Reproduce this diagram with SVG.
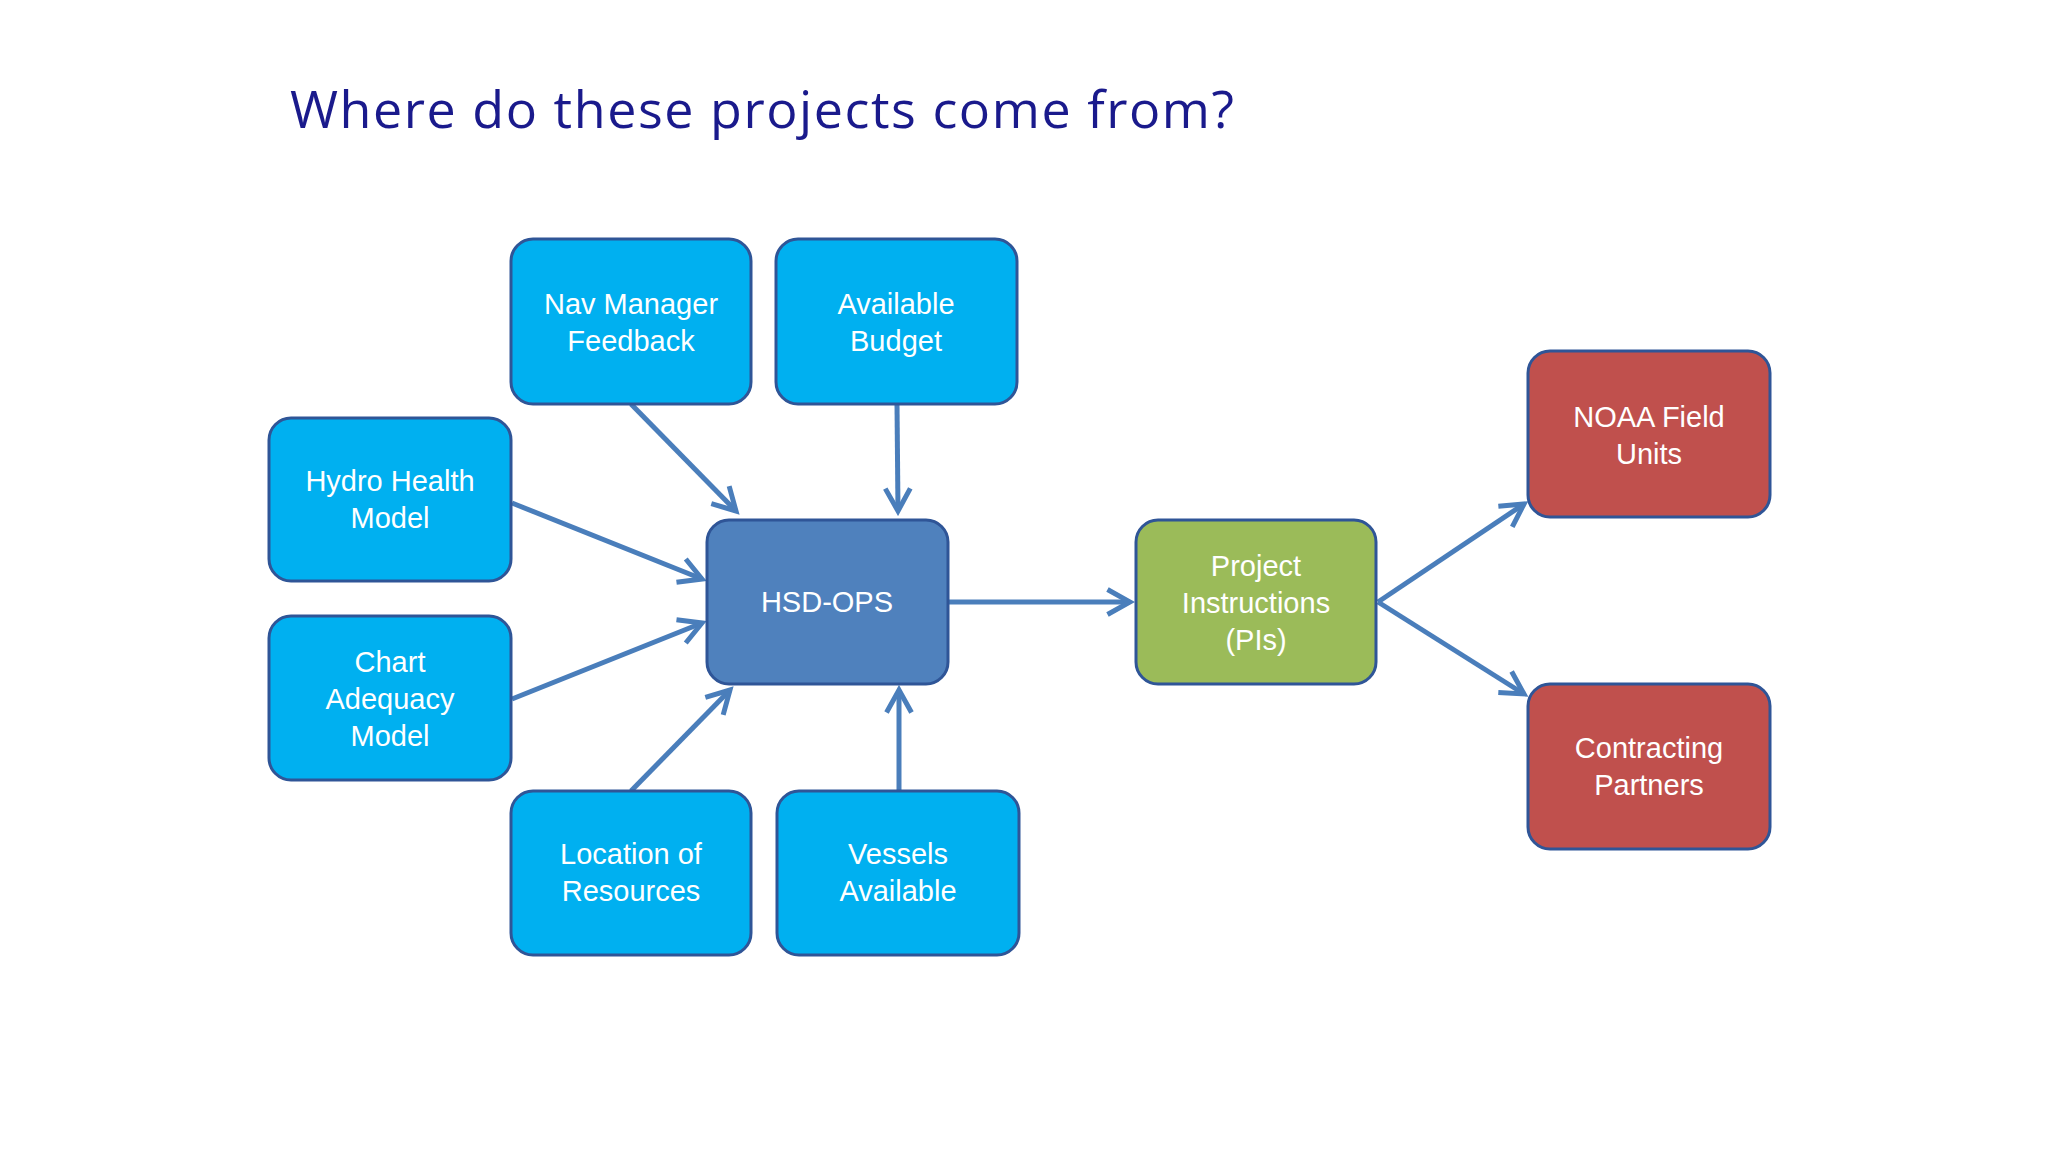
<svg xmlns="http://www.w3.org/2000/svg" width="2048" height="1155" viewBox="0 0 2048 1155">
<style>
.b{stroke:#2f5597;stroke-width:3}
.c{fill:#00b0f0}.h{fill:#4f81bd}.g{fill:#9bbb59}.r{fill:#c0504d}
.t{font-family:"Liberation Sans",Arial,sans-serif;font-size:29px;fill:#fff;text-anchor:middle}
.l{stroke:#4a7ebb;stroke-width:5;fill:none;marker-end:url(#a)}
</style>
<defs><marker id="a" viewBox="0 0 12 12" refX="10" refY="6" markerWidth="6" markerHeight="6" orient="auto" markerUnits="strokeWidth"><path d="M1,1 L10,6 L1,11" fill="none" stroke="#4a7ebb" stroke-width="2"/></marker></defs>
<rect width="2048" height="1155" fill="#fff"/>
<text x="290" y="128" font-family="'Open Sans','Liberation Sans',sans-serif" font-size="52" fill="#1a1a8c" textLength="944">Where do these projects come from?</text>
<g id="connectors">
<line class="l" x1="631" y1="404" x2="736" y2="511"/>
<line class="l" x1="897" y1="404" x2="898" y2="511"/>
<line class="l" x1="512" y1="503" x2="702" y2="579"/>
<line class="l" x1="512" y1="699" x2="702" y2="623"/>
<line class="l" x1="631" y1="791" x2="730" y2="690"/>
<line class="l" x1="899" y1="791" x2="899" y2="690"/>
<line class="l" x1="949" y1="602" x2="1130" y2="602"/>
<line class="l" x1="1378" y1="602" x2="1524" y2="504"/>
<line class="l" x1="1378" y1="602" x2="1524" y2="694"/>
</g>
<g id="nav"><rect class="b c" x="511" y="239" width="240" height="165" rx="22"/><text class="t" x="631" y="314">Nav Manager</text><text class="t" x="631" y="351">Feedback</text></g>
<g id="budget"><rect class="b c" x="776" y="239" width="241" height="165" rx="22"/><text class="t" x="896" y="314">Available</text><text class="t" x="896" y="351">Budget</text></g>
<g id="hydro"><rect class="b c" x="269" y="418" width="242" height="163" rx="22"/><text class="t" x="390" y="491">Hydro Health</text><text class="t" x="390" y="528">Model</text></g>
<g id="chart"><rect class="b c" x="269" y="616" width="242" height="164" rx="22"/><text class="t" x="390" y="672">Chart</text><text class="t" x="390" y="709">Adequacy</text><text class="t" x="390" y="746">Model</text></g>
<g id="hsd"><rect class="b h" x="707" y="520" width="241" height="164" rx="22"/><text class="t" x="827" y="612">HSD-OPS</text></g>
<g id="loc"><rect class="b c" x="511" y="791" width="240" height="164" rx="22"/><text class="t" x="631" y="864">Location of</text><text class="t" x="631" y="901">Resources</text></g>
<g id="vessels"><rect class="b c" x="777" y="791" width="242" height="164" rx="22"/><text class="t" x="898" y="864">Vessels</text><text class="t" x="898" y="901">Available</text></g>
<g id="pi"><rect class="b g" x="1136" y="520" width="240" height="164" rx="22"/><text class="t" x="1256" y="576">Project</text><text class="t" x="1256" y="613">Instructions</text><text class="t" x="1256" y="650">(PIs)</text></g>
<g id="noaa"><rect class="b r" x="1528" y="351" width="242" height="166" rx="22"/><text class="t" x="1649" y="427">NOAA Field</text><text class="t" x="1649" y="464">Units</text></g>
<g id="contract"><rect class="b r" x="1528" y="684" width="242" height="165" rx="22"/><text class="t" x="1649" y="758">Contracting</text><text class="t" x="1649" y="795">Partners</text></g>
</svg>
